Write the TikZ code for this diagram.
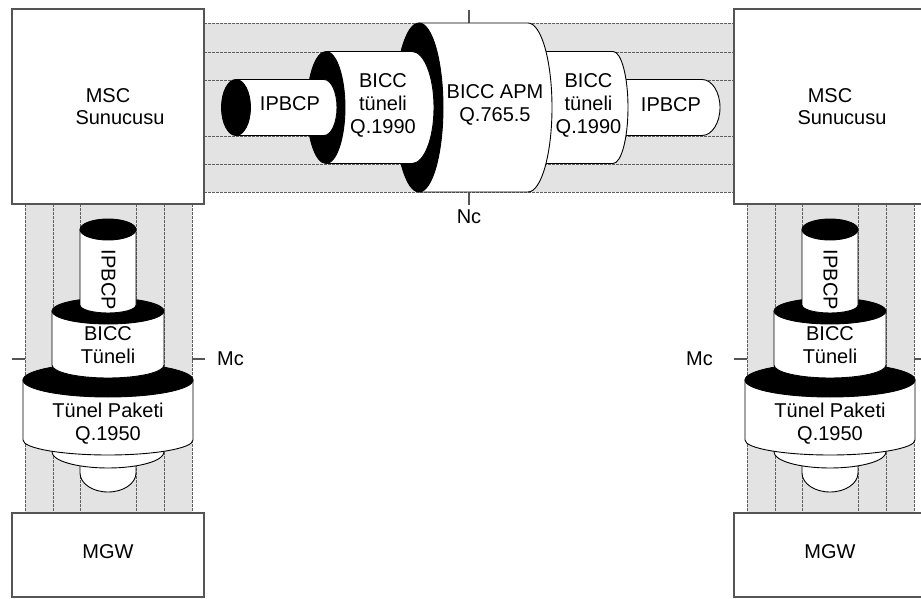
\documentclass[tikz,border=0pt]{standalone}
\usepackage{fontspec}
\setmainfont{Liberation Sans}
\usepackage{tikz}
\usetikzlibrary{positioning}
\definecolor{bandgray}{RGB}{227,227,227}
\definecolor{dashgray}{RGB}{95,95,95}
\definecolor{boxgray}{RGB}{85,85,85}
\tikzset{
  srvbox/.style={rectangle, draw=boxgray, fill=white, line width=1.4pt,
    minimum width=192pt, align=center, inner sep=0pt,
    font=\fontsize{20}{22}\selectfont},
  cylbody/.style={draw=black, fill=white, line width=0.9pt},
  cylface/.style={draw=black, fill=black, line width=0.9pt},
  band/.style={fill=bandgray},
  dashline/.style={draw=dashgray, line width=0.9pt, dash pattern=on 2.5pt off 1.5pt},
  tick/.style={draw=boxgray, line width=1.2pt},
  lbl/.style={align=center, inner sep=0pt, font=\fontsize{20}{23}\selectfont}
}

\begin{document}
\begin{tikzpicture}[x=1pt, y=-1pt]
  \useasboundingbox (0,0) rectangle (921,599);

  % Gray carrier bands
  \fill[band] (204,23) rectangle (734,192);
  \fill[band] (25,204) rectangle (192,513);
  \fill[band] (747,204) rectangle (914,513);

  % Dashed carrier lines
  \draw[dashline] (204,23) -- (734,23) (204,52) -- (734,52) (204,80) -- (734,80)
    (204,136) -- (734,136) (204,164) -- (734,164) (204,192) -- (734,192);
  \draw[dashline] (25,204) -- (25,513) (53,204) -- (53,513) (80,204) -- (80,513)
    (136,204) -- (136,513) (164,204) -- (164,513) (192,204) -- (192,513);
  \draw[dashline] (747,204) -- (747,513) (775,204) -- (775,513) (802,204) -- (802,513)
    (858,204) -- (858,513) (886,204) -- (886,513) (914,204) -- (914,513);

  % Interface ticks
  \coordinate (ncT) at (469,23);
  \coordinate (ncB) at (469,192);
  \coordinate (mcL) at (205,359);
  \coordinate (mcR) at (734,359);
  \draw[tick] (ncT) -- ++(0,-13);
  \draw[tick] (ncB) -- ++(0,13);
  \draw[tick] (12,359) -- (25,359);
  \draw[tick] (192,359) -- (mcL);
  \draw[tick] (mcR) -- (747,359);
  \draw[tick] (914,359) -- (926,359);

  % Nc stack: right side first, it lies underneath
  \draw[cylbody] (600,79.5) -- (702,79.5) arc[start angle=-90, end angle=90, x radius=18, y radius=28] -- (600,135.5) -- cycle;
  \draw[cylbody] (500,51.5) -- (613,51.5) arc[start angle=-90, end angle=90, x radius=15, y radius=56] -- (500,163.5) -- cycle;
  \draw[cylbody] (419,23) -- (528,23) arc[start angle=-90, end angle=90, x radius=24, y radius=84.5] -- (419,192) -- cycle;
  \draw[cylface] (419,107.5) ellipse[x radius=24, y radius=84.5];
  \draw[cylbody] (326,51.5) -- (412,51.5) arc[start angle=-90, end angle=90, x radius=22, y radius=56] -- (326,163.5) -- cycle;
  \draw[cylface] (326,107.5) ellipse[x radius=19, y radius=56];
  \draw[cylbody] (236,79.5) -- (324,79.5) arc[start angle=-90, end angle=90, x radius=13, y radius=28] -- (236,135.5) -- cycle;
  \draw[cylface] (236,107.5) ellipse[x radius=14.5, y radius=28];

  % Mc stack (left), lower rims first
  \draw[cylbody] (80,455) -- (80,473) arc[start angle=180, end angle=0, x radius=28, y radius=19] -- (136,455) -- cycle;
  \draw[cylbody] (52,430) -- (52,452) arc[start angle=180, end angle=0, x radius=56, y radius=16] -- (164,430) -- cycle;
  \draw[cylbody] (23,380) -- (23,440) arc[start angle=180, end angle=0, x radius=85, y radius=15] -- (193,380) -- cycle;
  \draw[cylface] (108,380) ellipse[x radius=85, y radius=17];
  \draw[cylbody] (52,311) -- (52,365) arc[start angle=180, end angle=0, x radius=56, y radius=13] -- (164,311) -- cycle;
  \draw[cylface] (108,311) ellipse[x radius=56, y radius=13];
  \draw[cylbody] (80,229.5) -- (80,305) arc[start angle=180, end angle=0, x radius=28, y radius=8] -- (136,229.5) -- cycle;
  \draw[cylface] (108,229.5) ellipse[x radius=28, y radius=10.5];
  \node[lbl, rotate=-90] (ipbcpVL) at (108.5,280) {IPBCP};
  \node[lbl] (biccVL) at (108,345) {BICC\\Tüneli};
  \node[lbl] (paketVL) at (108,424) {Tünel Paketi\\Q.1950};

  % Mc stack (right), same drawing shifted
  \begin{scope}[xshift=722pt]
    \draw[cylbody] (80,455) -- (80,473) arc[start angle=180, end angle=0, x radius=28, y radius=19] -- (136,455) -- cycle;
    \draw[cylbody] (52,430) -- (52,452) arc[start angle=180, end angle=0, x radius=56, y radius=16] -- (164,430) -- cycle;
    \draw[cylbody] (23,380) -- (23,440) arc[start angle=180, end angle=0, x radius=85, y radius=15] -- (193,380) -- cycle;
    \draw[cylface] (108,380) ellipse[x radius=85, y radius=17];
    \draw[cylbody] (52,311) -- (52,365) arc[start angle=180, end angle=0, x radius=56, y radius=13] -- (164,311) -- cycle;
    \draw[cylface] (108,311) ellipse[x radius=56, y radius=13];
    \draw[cylbody] (80,229.5) -- (80,305) arc[start angle=180, end angle=0, x radius=28, y radius=8] -- (136,229.5) -- cycle;
    \draw[cylface] (108,229.5) ellipse[x radius=28, y radius=10.5];
    \node[lbl, rotate=-90] (ipbcpVR) at (108.5,280) {IPBCP};
    \node[lbl] (biccVR) at (108,345) {BICC\\Tüneli};
    \node[lbl] (paketVR) at (108,424) {Tünel Paketi\\Q.1950};
  \end{scope}

  % Servers and gateways
  \node[srvbox, minimum height=195pt] (mscL) at (108,106.5) {MSC\\\hspace*{24pt}Sunucusu};
  \node[srvbox, minimum height=195pt] (mscR) at (830,106.5) {MSC\\\hspace*{24pt}Sunucusu};
  \node[srvbox, minimum height=84pt, text depth=6pt] (mgwL) at (108,555) {MGW};
  \node[srvbox, minimum height=84pt, text depth=6pt] (mgwR) at (830,555) {MGW};

  % Labels
  \node[lbl] (ipbcpL) at (290,104) {IPBCP};
  \node[lbl] (biccL) at (383,105) {BICC\\tüneli\\Q.1990};
  \node[lbl] (apm) at (495,104.5) {BICC APM\\Q.765.5};
  \node[lbl] (biccR) at (588.5,105) {BICC\\tüneli\\Q.1990};
  \node[lbl] (ipbcpR) at (671,104.5) {IPBCP};
  \node[lbl, below=5pt of ncB, yshift=-13pt] (nc) {Nc};
  \node[lbl, right=12pt of mcL] (mcl) {Mc};
  \node[lbl, left=21pt of mcR] (mcr) {Mc};
\end{tikzpicture}
\end{document}
